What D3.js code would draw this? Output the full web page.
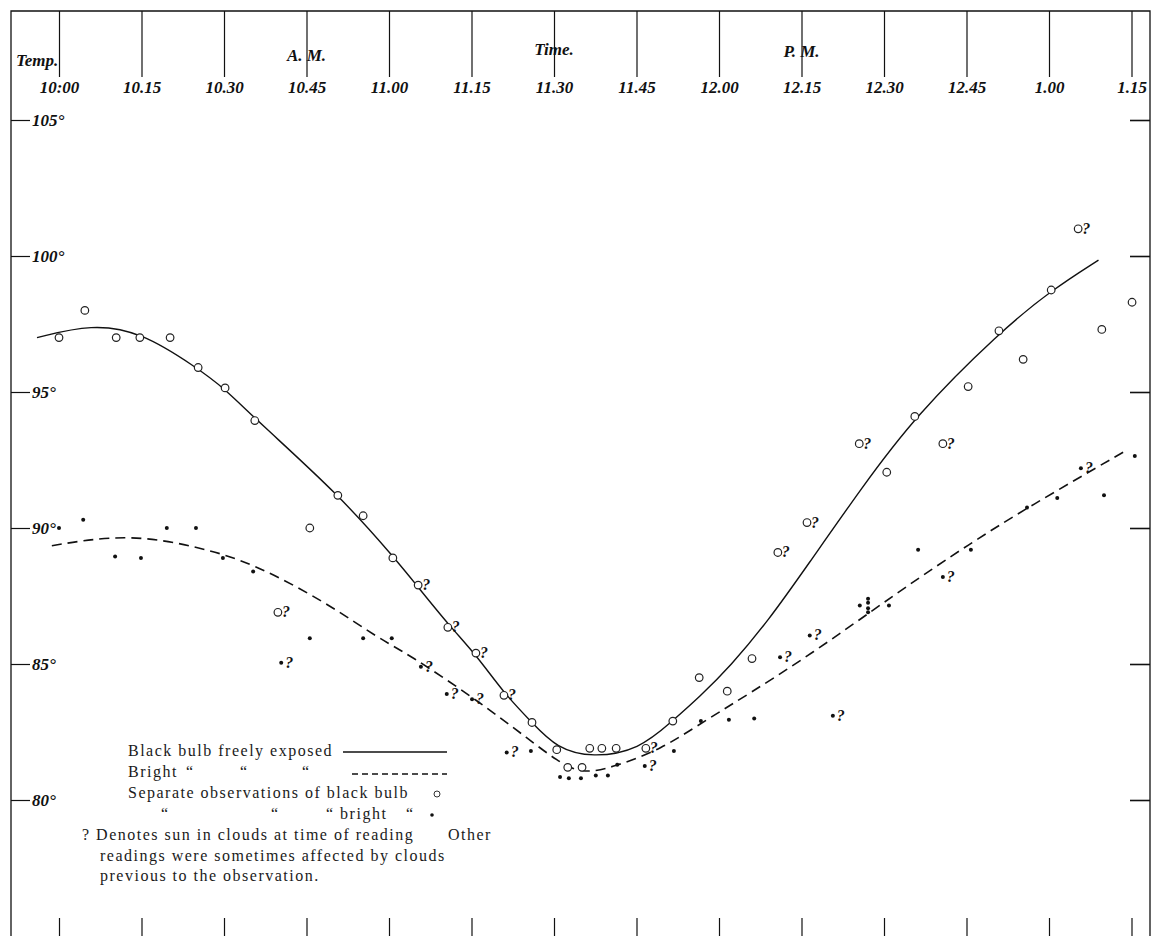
<!DOCTYPE html>
<html>
<head>
<meta charset="utf-8">
<script src="https://cdn.jsdelivr.net/npm/d3@7"></script>
<style>
  body { margin: 0; background: #fff; }
  svg { display: block; }
  .axis-label { font-family: "Liberation Serif", "DejaVu Serif", serif; font-weight: bold; font-style: italic; fill: #111; }
  .legend { font-family: "Liberation Serif", "DejaVu Serif", serif; font-size: 16px; fill: #1a1a1a; letter-spacing: 1.5px; }
</style>
</head>
<body>
<svg id="chart" width="1154" height="936"></svg>
<script>
// time in minutes after 10:00 A.M.
const timeTicks = [0, 15, 30, 45, 60, 75, 90, 105, 120, 135, 150, 165, 180, 195];
const timeLabels = ["10:00", "10.15", "10.30", "10.45", "11.00", "11.15", "11.30", "11.45", "12.00", "12.15", "12.30", "12.45", "1.00", "1.15"];
const tempTicks = [80, 85, 90, 95, 100, 105];
const tempLabels = ["80°", "85°", "90°", "95°", "100°", "105°"];

// black bulb observations (open circles); cloud = 1 where marked "?"
const blackTime = [0, 4.7, 10.4, 14.7, 20.2, 25.3, 30.2, 35.6, 39.8, 45.6, 50.7, 55.3, 60.7, 65.3, 70.7, 75.8, 80.9, 86.0, 90.5, 92.5, 95.1, 96.5, 98.7, 101.3, 106.7, 111.6, 116.4, 121.5, 126.0, 130.7, 136.0, 145.5, 150.5, 155.6, 160.7, 165.3, 170.9, 175.3, 180.4, 185.3, 189.6, 195.1];
const blackTemp = [97.0, 98.0, 97.0, 97.0, 97.0, 95.9, 95.15, 93.95, 86.9, 90.0, 91.2, 90.45, 88.9, 87.9, 86.35, 85.4, 83.85, 82.85, 81.85, 81.2, 81.2, 81.9, 81.9, 81.9, 81.9, 82.9, 84.5, 84.0, 85.2, 89.1, 90.2, 93.1, 92.05, 94.1, 93.1, 95.2, 97.25, 96.2, 98.75, 101.0, 97.3, 98.3];
const blackCloud = [0, 0, 0, 0, 0, 0, 0, 0, 1, 0, 0, 0, 0, 1, 1, 1, 1, 0, 0, 0, 0, 0, 0, 0, 1, 0, 0, 0, 0, 1, 1, 1, 0, 0, 1, 0, 0, 0, 0, 1, 0, 0];

// bright bulb observations (dots)
const brightTime = [0, 4.4, 10.2, 14.9, 19.6, 24.9, 29.8, 35.3, 40.4, 45.6, 55.3, 60.5, 65.8, 70.5, 75.1, 81.4, 85.8, 91.1, 92.7, 94.9, 97.6, 99.8, 101.5, 106.5, 111.8, 116.7, 121.8, 126.4, 131.1, 136.5, 140.7, 145.6, 147.1, 147.1, 147.1, 147.1, 150.9, 156.2, 160.7, 165.8, 176.0, 181.5, 185.8, 190.0, 195.6];
const brightTemp = [90.0, 90.3, 88.95, 88.9, 90.0, 90.0, 88.9, 88.4, 85.05, 85.95, 85.95, 85.95, 84.9, 83.9, 83.7, 81.75, 81.8, 80.85, 80.8, 80.8, 80.9, 80.9, 81.3, 81.25, 81.8, 82.9, 82.95, 83.0, 85.25, 86.05, 83.1, 87.15, 87.4, 87.25, 87.05, 86.9, 87.15, 89.2, 88.2, 89.2, 90.75, 91.1, 92.2, 91.2, 92.65];
const brightCloud = [0, 0, 0, 0, 0, 0, 0, 0, 1, 0, 0, 0, 1, 1, 1, 1, 0, 0, 0, 0, 0, 0, 0, 1, 0, 0, 0, 0, 1, 1, 1, 0, 0, 0, 0, 0, 0, 0, 1, 0, 0, 0, 1, 0, 0];

// drawn curves
const blackCurveTime = [-4, 6, 15, 25, 30, 36, 51, 61, 65, 71, 76, 81, 86, 90.5, 97, 105.5, 111.5, 116.5, 122, 129, 136, 146, 155.6, 171, 180.5, 189];
const blackCurveTemp = [97.0, 97.5, 97.2, 95.9, 95.15, 93.95, 91.2, 88.9, 87.9, 86.4, 85.3, 83.9, 82.85, 81.9, 81.55, 81.85, 82.9, 83.8, 84.9, 86.6, 88.6, 91.5, 94.1, 97.2, 98.75, 99.85];
const brightCurveTime = [-1.3, 12.4, 25.6, 35.3, 48.7, 58.4, 63.3, 76.5, 85.6, 90.5, 95, 100.8, 109.8, 116.5, 134.7, 152.9, 165.8, 176, 194.2];
const brightCurveTemp = [89.35, 89.8, 89.3, 88.7, 87.25, 85.9, 85.4, 83.6, 82.2, 81.45, 80.95, 81.2, 81.9, 82.8, 85.05, 87.7, 89.45, 90.74, 92.87];

const svg = d3.select("#chart");
const frame = { left: 11, top: 11, right: 1150, bottom: 936 };

const x = d3.scaleLinear()
    .domain([0, 195])
    .range([59, 1131.5]);

const y = d3.scaleLinear()
    .domain([80, 105])
    .range([800, 120]);

// frame
svg.append("path")
    .attr("d", `M${frame.left},${frame.bottom}V${frame.top}H${frame.right}V${frame.bottom}`)
    .attr("fill", "none")
    .attr("stroke", "#111")
    .attr("stroke-width", 1.3);

// time axis along the top
const topAxis = svg.append("g")
    .attr("transform", `translate(0,${frame.top})`)
    .call(d3.axisBottom(x)
        .tickValues(timeTicks)
        .tickFormat((d, i) => timeLabels[i])
        .tickSize(66)
        .tickSizeOuter(0)
        .tickPadding(4));
topAxis.select(".domain").remove();
topAxis.selectAll("line").attr("stroke", "#111").attr("stroke-width", 1.2);
topAxis.selectAll("text")
    .attr("class", "axis-label")
    .style("font-size", "17px");

// short ticks along the bottom
const bottomAxis = svg.append("g")
    .attr("transform", `translate(0,${frame.bottom})`)
    .call(d3.axisTop(x).tickValues(timeTicks).tickFormat("").tickSize(18).tickSizeOuter(0));
bottomAxis.select(".domain").remove();
bottomAxis.selectAll("line").attr("stroke", "#111").attr("stroke-width", 1.2);

// temperature ticks, left with labels
const leftAxis = svg.append("g")
    .attr("transform", `translate(${frame.left},0)`)
    .call(d3.axisRight(y)
        .tickValues(tempTicks)
        .tickFormat((d, i) => tempLabels[i])
        .tickSize(19)
        .tickPadding(2));
leftAxis.select(".domain").remove();
leftAxis.selectAll("line").attr("stroke", "#111").attr("stroke-width", 1.2);
leftAxis.selectAll("text")
    .attr("class", "axis-label")
    .style("font-size", "17px");

const rightAxis = svg.append("g")
    .attr("transform", `translate(${frame.right},0)`)
    .call(d3.axisLeft(y).tickValues(tempTicks).tickFormat("").tickSize(20).tickSizeOuter(0));
rightAxis.select(".domain").remove();
rightAxis.selectAll("line").attr("stroke", "#111").attr("stroke-width", 1.6);

// headings
const heads = [
    { text: "Temp.", x: 16, y: 66, anchor: "start" },
    { text: "A. M.", x: x(45), y: 61, anchor: "middle" },
    { text: "Time.", x: x(90), y: 55, anchor: "middle" },
    { text: "P. M.", x: x(135), y: 57, anchor: "middle" }
];
svg.selectAll(".head")
    .data(heads)
    .enter().append("text")
    .attr("class", "axis-label head")
    .attr("x", d => d.x)
    .attr("y", d => d.y)
    .attr("text-anchor", d => d.anchor)
    .style("font-size", "17px")
    .text(d => d.text);

// curves
const line = d3.line()
    .x(d => x(d[0]))
    .y(d => y(d[1]))
    .curve(d3.curveBasis);

svg.append("path")
    .datum(d3.zip(blackCurveTime, blackCurveTemp))
    .attr("d", line)
    .attr("fill", "none")
    .attr("stroke", "#111")
    .attr("stroke-width", 1.4);

svg.append("path")
    .datum(d3.zip(brightCurveTime, brightCurveTemp))
    .attr("d", line)
    .attr("fill", "none")
    .attr("stroke", "#111")
    .attr("stroke-width", 1.6)
    .attr("stroke-dasharray", "10,6");

// observations
const blackData = blackTime.map((t, i) => ({ t: t, v: blackTemp[i], q: blackCloud[i] }));
const brightData = brightTime.map((t, i) => ({ t: t, v: brightTemp[i], q: brightCloud[i] }));

svg.selectAll(".dot")
    .data(brightData)
    .enter().append("circle")
    .attr("class", "dot")
    .attr("cx", d => x(d.t))
    .attr("cy", d => y(d.v))
    .attr("r", 2)
    .attr("fill", "#111");

svg.selectAll(".ring")
    .data(blackData)
    .enter().append("circle")
    .attr("class", "ring")
    .attr("cx", d => x(d.t))
    .attr("cy", d => y(d.v))
    .attr("r", 3.8)
    .attr("fill", "#fff")
    .attr("stroke", "#222")
    .attr("stroke-width", 1.2);

// "?" = sun in clouds
svg.selectAll(".qmark")
    .data(blackData.filter(d => d.q).concat(brightData.filter(d => d.q)))
    .enter().append("text")
    .attr("class", "axis-label qmark")
    .attr("x", d => x(d.t) + 4)
    .attr("y", d => y(d.v) + 5)
    .style("font-size", "16px")
    .text("?");

// legend
const legend = svg.append("g").attr("class", "legend");
const legendItems = [
    { text: "Black bulb freely exposed", x: 128, y: 756 },
    { text: "Bright", x: 128, y: 777 },
    { text: "\u201C", x: 186, y: 777 },
    { text: "\u201C", x: 240, y: 777 },
    { text: "\u201C", x: 302, y: 777 },
    { text: "Separate observations of black bulb", x: 128, y: 798 },
    { text: "\u201C", x: 161, y: 819 },
    { text: "\u201C", x: 271, y: 819 },
    { text: "\u201C bright", x: 326, y: 819 },
    { text: "\u201C", x: 406, y: 819 },
    { text: "? Denotes sun in clouds at time of reading", x: 82, y: 840 },
    { text: "Other", x: 448, y: 840 },
    { text: "readings were sometimes affected by clouds", x: 100, y: 861 },
    { text: "previous to the observation.", x: 100, y: 881 }
];
legend.selectAll("text")
    .data(legendItems)
    .enter().append("text")
    .attr("x", d => d.x)
    .attr("y", d => d.y)
    .text(d => d.text);

legend.append("line")
    .attr("x1", 343).attr("x2", 447).attr("y1", 752).attr("y2", 752)
    .attr("stroke", "#111").attr("stroke-width", 1.3);
legend.append("line")
    .attr("x1", 352).attr("x2", 447).attr("y1", 774).attr("y2", 774)
    .attr("stroke", "#111").attr("stroke-width", 1.3)
    .attr("stroke-dasharray", "6,4");
legend.append("circle")
    .attr("cx", 437).attr("cy", 794).attr("r", 3)
    .attr("fill", "#fff").attr("stroke", "#333").attr("stroke-width", 1);
legend.append("circle")
    .attr("cx", 432).attr("cy", 815).attr("r", 1.8)
    .attr("fill", "#111");
</script>
</body>
</html>
